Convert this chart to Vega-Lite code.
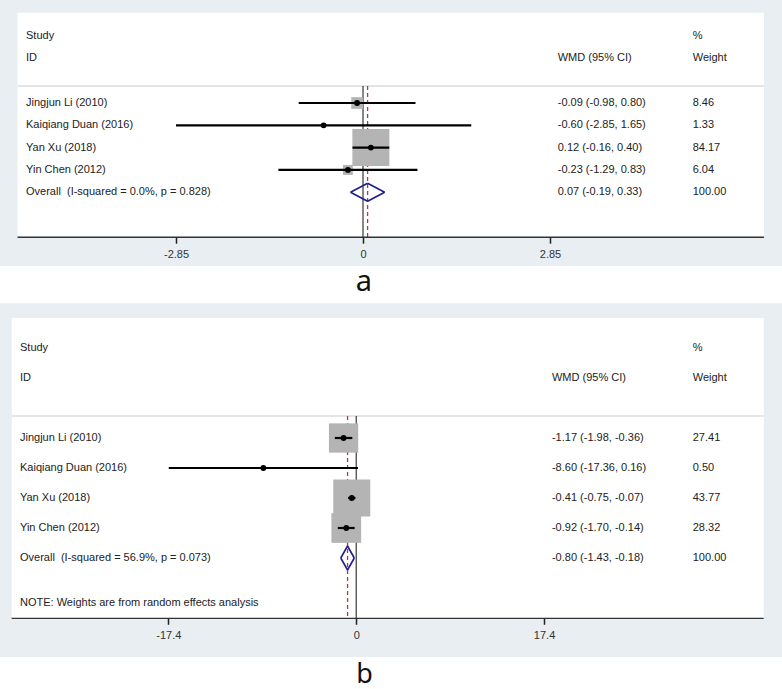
{
  "$schema": "https://vega.github.io/schema/vega-lite/v6.json",
  "width": 782,
  "height": 689,
  "autosize": {"type": "none"},
  "padding": 0,
  "background": "white",
  "datasets": {
    "a": [
      {"study": "Jingjun Li (2010)", "est": -0.09, "lo": -0.98, "hi": 0.80, "w": 8.46, "kind": "study"},
      {"study": "Kaiqiang Duan (2016)", "est": -0.60, "lo": -2.85, "hi": 1.65, "w": 1.33, "kind": "study"},
      {"study": "Yan Xu (2018)", "est": 0.12, "lo": -0.16, "hi": 0.40, "w": 84.17, "kind": "study"},
      {"study": "Yin Chen (2012)", "est": -0.23, "lo": -1.29, "hi": 0.83, "w": 6.04, "kind": "study"},
      {"study": "Overall\u00a0 (I-squared = 0.0%, p = 0.828)", "est": 0.07, "lo": -0.19, "hi": 0.33, "w": 100.00, "kind": "pooled"}
    ],
    "b": [
      {"study": "Jingjun Li (2010)", "est": -1.17, "lo": -1.98, "hi": -0.36, "w": 27.41, "kind": "study"},
      {"study": "Kaiqiang Duan (2016)", "est": -8.60, "lo": -17.36, "hi": 0.16, "w": 0.50, "kind": "study"},
      {"study": "Yan Xu (2018)", "est": -0.41, "lo": -0.75, "hi": -0.07, "w": 43.77, "kind": "study"},
      {"study": "Yin Chen (2012)", "est": -0.92, "lo": -1.70, "hi": -0.14, "w": 28.32, "kind": "study"},
      {"study": "Overall\u00a0 (I-squared = 56.9%, p = 0.073)", "est": -0.80, "lo": -1.43, "hi": -0.18, "w": 100.00, "kind": "pooled"}
    ]
  },
  "config": {
    "view": {"stroke": null},
    "axis": {"grid": false},
    "text": {"font": "Liberation Sans", "fontSize": 11, "color": "#222", "align": "left", "baseline": "middle"}
  },
  "layer": [
    {
      "data": {"name": "a"},
      "transform": [
        {"window": [{"op": "row_number", "as": "row"}]},
        {"calculate": "replace(format(datum.est,'.2f') + ' (' + format(datum.lo,'.2f') + ', ' + format(datum.hi,'.2f') + ')', regexp('\u2212','g'), '-')", "as": "ci"},
        {"calculate": "format(datum.w,'.2f')", "as": "wt"}
      ],
      "layer": [
        {
          "data": {"values": [{}]},
          "mark": {"type": "rect", "color": "#e8eef1"},
          "encoding": {
            "x": {"datum": -5.5327, "type": "quantitative",
              "scale": {"domain": [-5.5327, 6.3862], "nice": false, "zero": false}},
            "x2": {"datum": 6.3862},
            "y": {"datum": -3.619, "type": "quantitative",
              "scale": {"domain": [-3.619, 27.278], "nice": false, "zero": false, "reverse": true}, "axis": null},
            "y2": {"datum": 8.31}
          }
        },
        {
          "data": {"values": [{}]},
          "mark": {"type": "rect", "color": "white"},
          "encoding": {
            "x": {"datum": -5.266, "type": "quantitative"},
            "x2": {"datum": 6.112},
            "y": {"datum": -3.05, "type": "quantitative", "axis": null},
            "y2": {"datum": 7.02}
          }
        },
        {
          "data": {"values": [{}]},
          "mark": {"type": "rule", "color": "#c9c9c9", "strokeWidth": 1},
          "encoding": {
            "x": {"datum": -5.266, "type": "quantitative"},
            "x2": {"datum": 6.112},
            "y": {"datum": 0.238, "type": "quantitative", "axis": null}
          }
        },
        {
          "data": {"values": [{}]},
          "mark": {"type": "rule", "color": "#111", "strokeWidth": 1},
          "encoding": {
            "x": {"datum": 0, "type": "quantitative"},
            "y": {"datum": 0.238, "type": "quantitative", "axis": null},
            "y2": {"datum": 7.02}
          }
        },
        {
          "transform": [{"filter": "datum.kind == 'pooled'"}],
          "mark": {"type": "rule", "color": "#c62f3e", "strokeDash": [4, 3], "strokeWidth": 1.3},
          "encoding": {
            "x": {"field": "est", "type": "quantitative"},
            "y": {"datum": 0.238, "type": "quantitative", "axis": null},
            "y2": {"datum": 7.02}
          }
        },
        {
          "transform": [{"filter": "datum.kind == 'study'"}],
          "mark": {"type": "square", "color": "#b4b4b4", "opacity": 1},
          "encoding": {
            "x": {"field": "est", "type": "quantitative"},
            "y": {"field": "row", "type": "quantitative", "axis": null},
            "size": {"field": "w", "type": "quantitative", "scale": {"zero": true, "nice": false, "range": [0, 1369]}, "legend": null}
          }
        },
        {
          "transform": [{"filter": "datum.kind == 'study'"}],
          "mark": {"type": "rule", "color": "black", "strokeWidth": 2.2},
          "encoding": {
            "x": {"field": "lo", "type": "quantitative",
              "axis": {"orient": "bottom", "offset": -451.8, "zindex": 1, "values": [-2.85, 0, 2.85], "labelExpr": "'' + datum.value",
                "domain": false, "grid": false, "ticks": true, "tickSize": 6, "tickColor": "#222", "tickWidth": 1.5,
                "labelFont": "Liberation Sans", "labelFontSize": 11, "labelColor": "#333", "labelPadding": 5,
                "labelFlush": false, "labelOverlap": false,
                "title": "a", "titleFont": "Noto Sans", "titleFontSize": 29, "titleFontWeight": "normal", "titleColor": "#111",
                "titleX": 363.5, "titleY": 52.8, "titleAlign": "center", "titleBaseline": "alphabetic"}},
            "x2": {"field": "hi"},
            "y": {"field": "row", "type": "quantitative", "axis": null}
          }
        },
        {
          "transform": [{"filter": "datum.kind == 'study'"}],
          "mark": {"type": "circle", "color": "black", "size": 34, "opacity": 1},
          "encoding": {
            "x": {"field": "est", "type": "quantitative"},
            "y": {"field": "row", "type": "quantitative", "axis": null}
          }
        },
        {
          "transform": [{"filter": "datum.kind == 'pooled'"}],
          "mark": {"type": "rule", "color": "#1b1f86", "strokeWidth": 1.6, "y2Offset": -9},
          "encoding": {
            "x": {"field": "lo", "type": "quantitative"}, "x2": {"field": "est"},
            "y": {"field": "row", "type": "quantitative", "axis": null}, "y2": {"field": "row"}
          }
        },
        {
          "transform": [{"filter": "datum.kind == 'pooled'"}],
          "mark": {"type": "rule", "color": "#1b1f86", "strokeWidth": 1.6, "yOffset": -9},
          "encoding": {
            "x": {"field": "est", "type": "quantitative"}, "x2": {"field": "hi"},
            "y": {"field": "row", "type": "quantitative", "axis": null}, "y2": {"field": "row"}
          }
        },
        {
          "transform": [{"filter": "datum.kind == 'pooled'"}],
          "mark": {"type": "rule", "color": "#1b1f86", "strokeWidth": 1.6, "y2Offset": 9},
          "encoding": {
            "x": {"field": "hi", "type": "quantitative"}, "x2": {"field": "est"},
            "y": {"field": "row", "type": "quantitative", "axis": null}, "y2": {"field": "row"}
          }
        },
        {
          "transform": [{"filter": "datum.kind == 'pooled'"}],
          "mark": {"type": "rule", "color": "#1b1f86", "strokeWidth": 1.6, "yOffset": 9},
          "encoding": {
            "x": {"field": "est", "type": "quantitative"}, "x2": {"field": "lo"},
            "y": {"field": "row", "type": "quantitative", "axis": null}, "y2": {"field": "row"}
          }
        },
        {
          "data": {"values": [{}]},
          "mark": {"type": "rule", "color": "#333", "strokeWidth": 1.3},
          "encoding": {
            "x": {"datum": -5.266, "type": "quantitative"},
            "x2": {"datum": 6.112},
            "y": {"datum": 7.02, "type": "quantitative", "axis": null}
          }
        },
        {
          "mark": {"type": "text"},
          "encoding": {
            "x": {"datum": -5.136, "type": "quantitative"},
            "y": {"field": "row", "type": "quantitative", "axis": null},
            "text": {"field": "study"}
          }
        },
        {
          "mark": {"type": "text"},
          "encoding": {
            "x": {"datum": 2.968, "type": "quantitative"},
            "y": {"field": "row", "type": "quantitative", "axis": null},
            "text": {"field": "ci"}
          }
        },
        {
          "mark": {"type": "text"},
          "encoding": {
            "x": {"datum": 5.025, "type": "quantitative"},
            "y": {"field": "row", "type": "quantitative", "axis": null},
            "text": {"field": "wt"}
          }
        },
        {
          "data": {"values": [{}]},
          "mark": {"type": "text"},
          "encoding": {
            "x": {"datum": -5.136, "type": "quantitative"},
            "y": {"datum": -2, "type": "quantitative", "axis": null},
            "text": {"value": "Study"}
          }
        },
        {
          "data": {"values": [{}]},
          "mark": {"type": "text"},
          "encoding": {
            "x": {"datum": -5.136, "type": "quantitative"},
            "y": {"datum": -1, "type": "quantitative", "axis": null},
            "text": {"value": "ID"}
          }
        },
        {
          "data": {"values": [{}]},
          "mark": {"type": "text"},
          "encoding": {
            "x": {"datum": 2.968, "type": "quantitative"},
            "y": {"datum": -1, "type": "quantitative", "axis": null},
            "text": {"value": "WMD (95% CI)"}
          }
        },
        {
          "data": {"values": [{}]},
          "mark": {"type": "text"},
          "encoding": {
            "x": {"datum": 5.025, "type": "quantitative"},
            "y": {"datum": -2, "type": "quantitative", "axis": null},
            "text": {"value": "%"}
          }
        },
        {
          "data": {"values": [{}]},
          "mark": {"type": "text"},
          "encoding": {
            "x": {"datum": 5.025, "type": "quantitative"},
            "y": {"datum": -1, "type": "quantitative", "axis": null},
            "text": {"value": "Weight"}
          }
        }
      ]
    },
    {
      "data": {"name": "b"},
      "transform": [
        {"window": [{"op": "row_number", "as": "row"}]},
        {"calculate": "replace(format(datum.est,'.2f') + ' (' + format(datum.lo,'.2f') + ', ' + format(datum.hi,'.2f') + ')', regexp('\u2212','g'), '-')", "as": "ci"},
        {"calculate": "format(datum.w,'.2f')", "as": "wt"}
      ],
      "layer": [
        {
          "data": {"values": [{}]},
          "mark": {"type": "rect", "color": "#e8eef1"},
          "encoding": {
            "x": {"datum": -32.991, "type": "quantitative",
              "scale": {"domain": [-32.991, 39.437], "nice": false, "zero": false}},
            "x2": {"datum": 39.437},
            "y": {"datum": -3.49, "type": "quantitative",
              "scale": {"domain": [-13.6, 9.367], "nice": false, "zero": false, "reverse": true}, "axis": null},
            "y2": {"datum": 8.3}
          }
        },
        {
          "data": {"values": [{}]},
          "mark": {"type": "rect", "color": "white"},
          "encoding": {
            "x": {"datum": -31.908, "type": "quantitative"},
            "x2": {"datum": 37.742},
            "y": {"datum": -3.0, "type": "quantitative", "axis": null},
            "y2": {"datum": 7.01}
          }
        },
        {
          "data": {"values": [{}]},
          "mark": {"type": "rule", "color": "#c9c9c9", "strokeWidth": 1},
          "encoding": {
            "x": {"datum": -31.908, "type": "quantitative"},
            "x2": {"datum": 37.742},
            "y": {"datum": 0.267, "type": "quantitative", "axis": null}
          }
        },
        {
          "data": {"values": [{}]},
          "mark": {"type": "rule", "color": "#111", "strokeWidth": 1},
          "encoding": {
            "x": {"datum": 0, "type": "quantitative"},
            "y": {"datum": 0.267, "type": "quantitative", "axis": null},
            "y2": {"datum": 7.01}
          }
        },
        {
          "transform": [{"filter": "datum.kind == 'pooled'"}],
          "mark": {"type": "rule", "color": "#c62f3e", "strokeDash": [4, 3], "strokeWidth": 1.3},
          "encoding": {
            "x": {"field": "est", "type": "quantitative"},
            "y": {"datum": 0.267, "type": "quantitative", "axis": null},
            "y2": {"datum": 7.01}
          }
        },
        {
          "transform": [{"filter": "datum.kind == 'study'"}],
          "mark": {"type": "square", "color": "#b4b4b4", "opacity": 1},
          "encoding": {
            "x": {"field": "est", "type": "quantitative"},
            "y": {"field": "row", "type": "quantitative", "axis": null},
            "size": {"field": "w", "type": "quantitative", "scale": {"zero": true, "nice": false, "range": [0, 1369]}, "legend": null}
          }
        },
        {
          "transform": [{"filter": "datum.kind == 'study'"}],
          "mark": {"type": "rule", "color": "black", "strokeWidth": 2.2},
          "encoding": {
            "x": {"field": "lo", "type": "quantitative",
              "axis": {"orient": "bottom", "offset": -70.7, "zindex": 1, "values": [-17.4, 0, 17.4], "labelExpr": "'' + datum.value",
                "domain": false, "grid": false, "ticks": true, "tickSize": 6, "tickColor": "#222", "tickWidth": 1.5,
                "labelFont": "Liberation Sans", "labelFontSize": 11, "labelColor": "#333", "labelPadding": 5,
                "labelFlush": false, "labelOverlap": false,
                "title": "b", "titleFont": "Noto Sans", "titleFontSize": 27, "titleFontWeight": "normal", "titleColor": "#111",
                "titleX": 364, "titleY": 63.7, "titleAlign": "center", "titleBaseline": "alphabetic"}},
            "x2": {"field": "hi"},
            "y": {"field": "row", "type": "quantitative", "axis": null}
          }
        },
        {
          "transform": [{"filter": "datum.kind == 'study'"}],
          "mark": {"type": "circle", "color": "black", "size": 34, "opacity": 1},
          "encoding": {
            "x": {"field": "est", "type": "quantitative"},
            "y": {"field": "row", "type": "quantitative", "axis": null}
          }
        },
        {
          "transform": [{"filter": "datum.kind == 'pooled'"}],
          "mark": {"type": "rule", "color": "#1b1f86", "strokeWidth": 1.6, "y2Offset": -12},
          "encoding": {
            "x": {"field": "lo", "type": "quantitative"}, "x2": {"field": "est"},
            "y": {"field": "row", "type": "quantitative", "axis": null}, "y2": {"field": "row"}
          }
        },
        {
          "transform": [{"filter": "datum.kind == 'pooled'"}],
          "mark": {"type": "rule", "color": "#1b1f86", "strokeWidth": 1.6, "yOffset": -12},
          "encoding": {
            "x": {"field": "est", "type": "quantitative"}, "x2": {"field": "hi"},
            "y": {"field": "row", "type": "quantitative", "axis": null}, "y2": {"field": "row"}
          }
        },
        {
          "transform": [{"filter": "datum.kind == 'pooled'"}],
          "mark": {"type": "rule", "color": "#1b1f86", "strokeWidth": 1.6, "y2Offset": 12},
          "encoding": {
            "x": {"field": "hi", "type": "quantitative"}, "x2": {"field": "est"},
            "y": {"field": "row", "type": "quantitative", "axis": null}, "y2": {"field": "row"}
          }
        },
        {
          "transform": [{"filter": "datum.kind == 'pooled'"}],
          "mark": {"type": "rule", "color": "#1b1f86", "strokeWidth": 1.6, "yOffset": 12},
          "encoding": {
            "x": {"field": "est", "type": "quantitative"}, "x2": {"field": "lo"},
            "y": {"field": "row", "type": "quantitative", "axis": null}, "y2": {"field": "row"}
          }
        },
        {
          "data": {"values": [{}]},
          "mark": {"type": "rule", "color": "#333", "strokeWidth": 1.3},
          "encoding": {
            "x": {"datum": -31.908, "type": "quantitative"},
            "x2": {"datum": 37.742},
            "y": {"datum": 7.01, "type": "quantitative", "axis": null}
          }
        },
        {
          "mark": {"type": "text"},
          "encoding": {
            "x": {"datum": -31.14, "type": "quantitative"},
            "y": {"field": "row", "type": "quantitative", "axis": null},
            "text": {"field": "study"}
          }
        },
        {
          "mark": {"type": "text"},
          "encoding": {
            "x": {"datum": 18.13, "type": "quantitative"},
            "y": {"field": "row", "type": "quantitative", "axis": null},
            "text": {"field": "ci"}
          }
        },
        {
          "mark": {"type": "text"},
          "encoding": {
            "x": {"datum": 31.17, "type": "quantitative"},
            "y": {"field": "row", "type": "quantitative", "axis": null},
            "text": {"field": "wt"}
          }
        },
        {
          "data": {"values": [{}]},
          "mark": {"type": "text"},
          "encoding": {
            "x": {"datum": -31.14, "type": "quantitative"},
            "y": {"datum": -2, "type": "quantitative", "axis": null},
            "text": {"value": "Study"}
          }
        },
        {
          "data": {"values": [{}]},
          "mark": {"type": "text"},
          "encoding": {
            "x": {"datum": -31.14, "type": "quantitative"},
            "y": {"datum": -1, "type": "quantitative", "axis": null},
            "text": {"value": "ID"}
          }
        },
        {
          "data": {"values": [{}]},
          "mark": {"type": "text"},
          "encoding": {
            "x": {"datum": 18.13, "type": "quantitative"},
            "y": {"datum": -1, "type": "quantitative", "axis": null},
            "text": {"value": "WMD (95% CI)"}
          }
        },
        {
          "data": {"values": [{}]},
          "mark": {"type": "text"},
          "encoding": {
            "x": {"datum": 31.17, "type": "quantitative"},
            "y": {"datum": -2, "type": "quantitative", "axis": null},
            "text": {"value": "%"}
          }
        },
        {
          "data": {"values": [{}]},
          "mark": {"type": "text"},
          "encoding": {
            "x": {"datum": 31.17, "type": "quantitative"},
            "y": {"datum": -1, "type": "quantitative", "axis": null},
            "text": {"value": "Weight"}
          }
        },
        {
          "data": {"values": [{}]},
          "mark": {"type": "text"},
          "encoding": {
            "x": {"datum": -31.14, "type": "quantitative"},
            "y": {"datum": 6.5, "type": "quantitative", "axis": null},
            "text": {"value": "NOTE: Weights are from random effects analysis"}
          }
        }
      ]
    }
  ],
  "resolve": {
    "scale": {"x": "independent", "y": "independent", "size": "independent"},
    "axis": {"x": "independent", "y": "independent"}
  }
}
